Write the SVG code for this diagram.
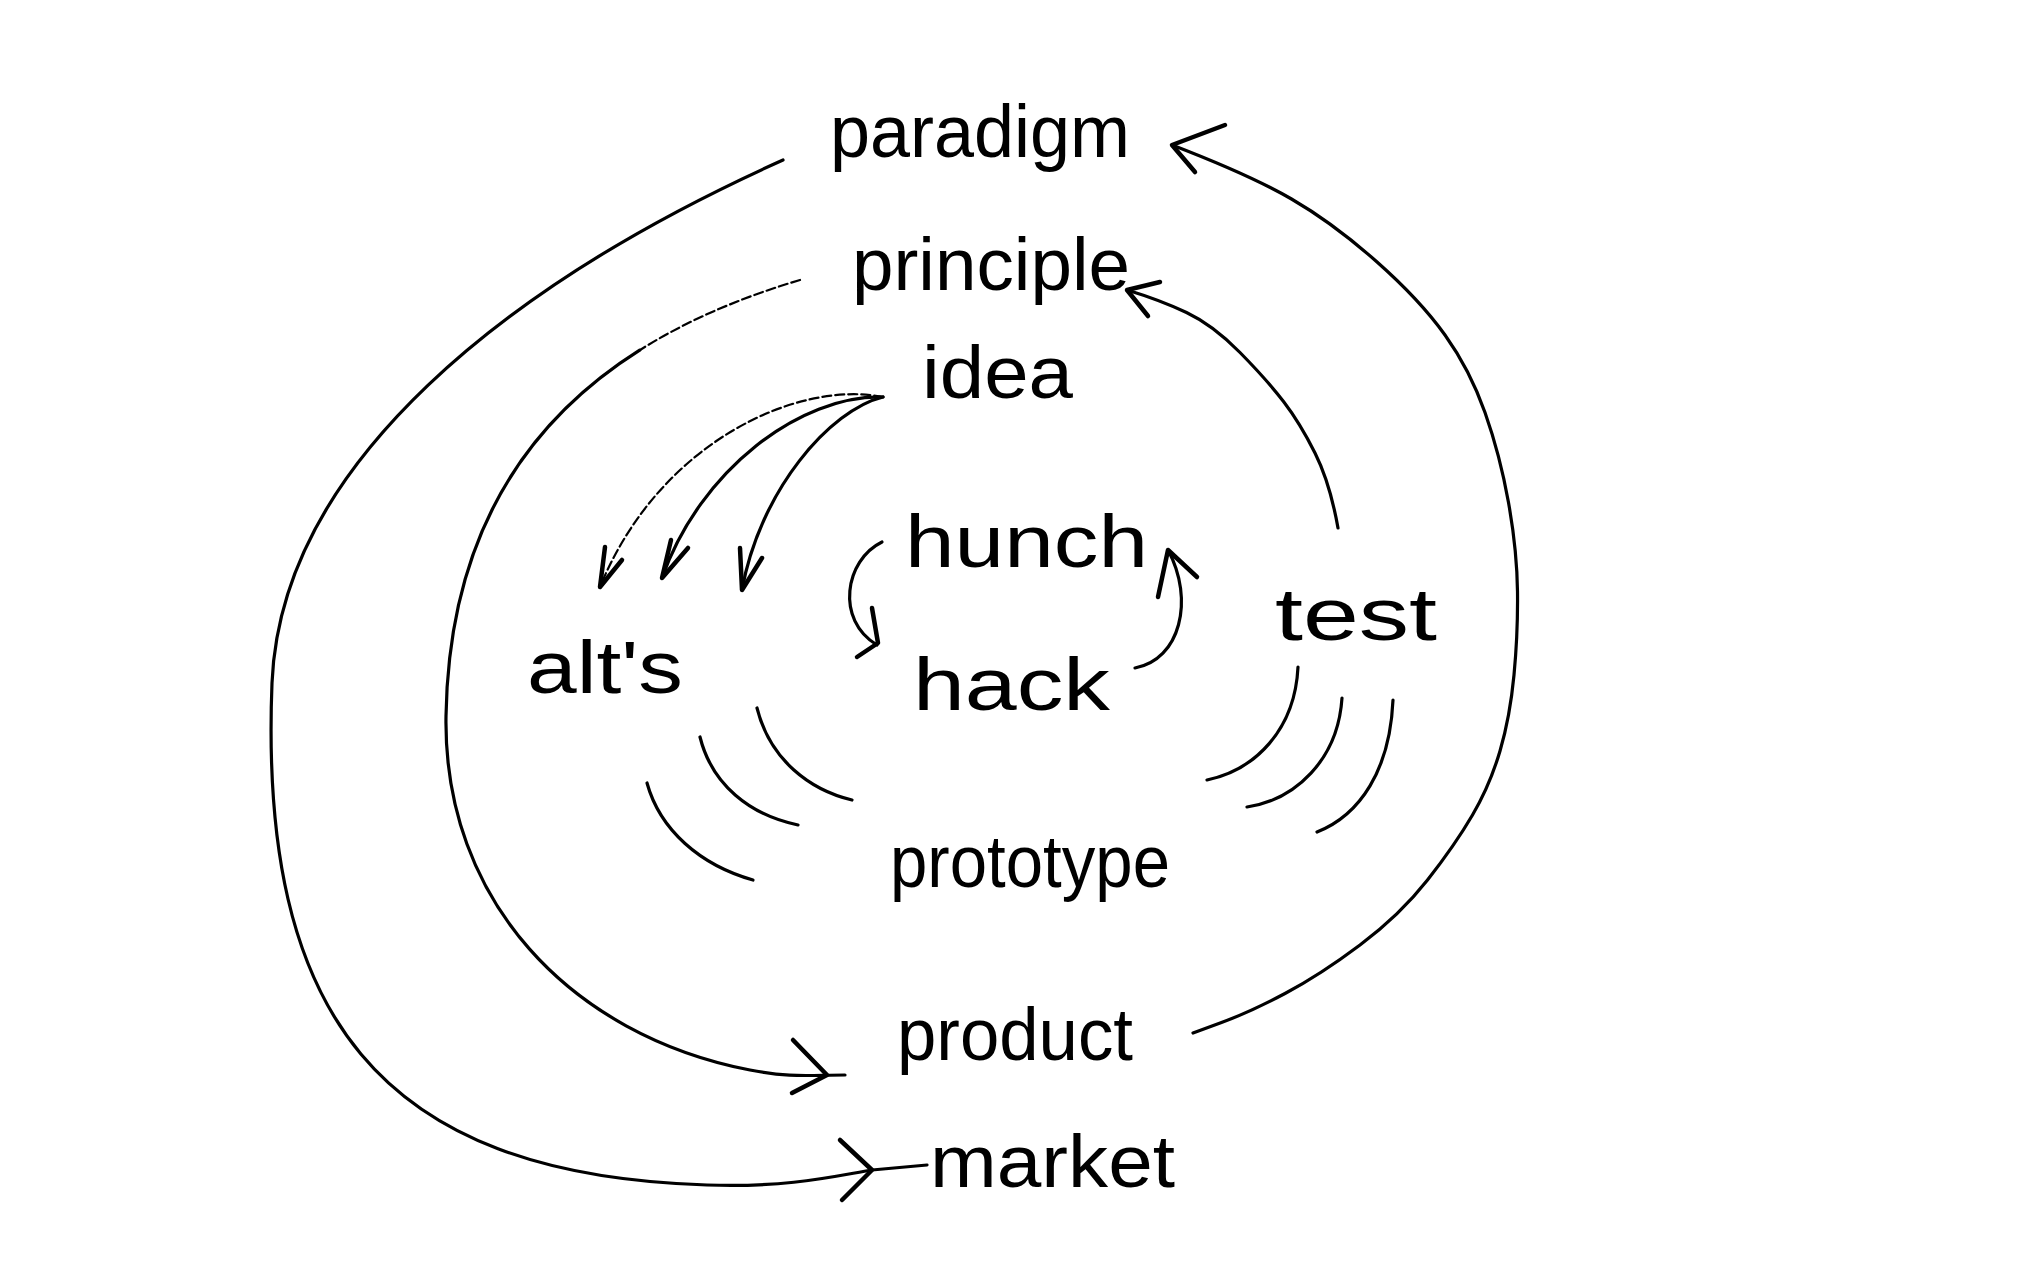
<svg xmlns="http://www.w3.org/2000/svg" width="2028" height="1270" viewBox="0 0 2028 1270">
<style>
.lbl{font-family:"Liberation Sans","DejaVu Sans",sans-serif;font-size:74px;fill:#000;}
.ln{fill:none;stroke:#000;stroke-width:3.2;stroke-linecap:round;stroke-linejoin:round;}
.faint{fill:none;stroke:#000;stroke-width:2.2;stroke-linecap:round;stroke-dasharray:9 4;}
.hd{fill:none;stroke:#000;stroke-width:4.5;stroke-linecap:round;stroke-linejoin:round;}
</style>
<rect width="2028" height="1270" fill="#fff"/>
<g id="connectors">
  <!-- outer left: paradigm -> market -->
  <path class="ln" d="M 783 160 C 509 283, 281 463, 272 683 C 259 1013, 377 1175, 707 1185 C 790 1188, 840 1175, 872 1170 L 927 1165"/>
  <path class="hd" d="M 840 1140 L 872 1170 L 842 1200"/>
  <!-- inner left: principle -> product -->
  <path class="faint" d="M 800 280 C 742.4 297.1, 687.9 319.8, 639.7 350.2"/>
  <path class="ln" d="M 639.7 350.2 C 527.1 421.1, 448.8 534, 446 716 C 443 900, 570 1035, 750 1070 C 790 1078, 810 1075, 845 1075"/>
  <path class="hd" d="M 793 1040 L 827 1075 L 792 1093"/>
  <!-- outer right: product -> paradigm -->
  <path class="ln" d="M 1193 1033 L 1221.5 1022.5 Q 1250 1012 1285 993.5 Q 1320 975 1360 945 Q 1400 915 1427.5 880 Q 1455 845 1472.5 815 Q 1490 785 1500 751 Q 1510 717 1514 675 Q 1518 633 1517.5 591.5 Q 1517 550 1508.5 502.5 Q 1500 455 1485 412.5 Q 1470 370 1445 335 Q 1420 300 1376.5 261.5 Q 1333 223 1291.5 199 Q 1250 175 1172 145"/>
  <path class="hd" d="M 1225 125 L 1172 145 L 1195 172"/>
  <!-- inner right: test -> principle -->
  <path class="ln" d="M 1338 528 Q 1330 483 1315 453 Q 1300 423 1283.5 401.5 Q 1267 380 1240 352.5 Q 1213 325 1186.5 312.5 Q 1160 300 1127 290"/>
  <path class="hd" d="M 1160 282 L 1127 290 L 1148 316"/>
  <!-- idea -> alt's (three) -->
  <path class="faint" d="M 883 397 C 800 380, 660 440, 600 587"/>
  <path class="hd" d="M 605 547 L 600 587 L 622 560"/>
  <path class="ln" d="M 883 397 C 800 395, 700 470, 662 578"/>
  <path class="hd" d="M 671 540 L 662 578 L 688 548"/>
  <path class="ln" d="M 883 397 C 830 410, 760 490, 742 590"/>
  <path class="hd" d="M 740 548 L 742 590 L 762 558"/>
  <!-- hunch <-> hack -->
  <path class="ln" d="M 882 542 C 845 560, 835 620, 877 645"/>
  <path class="hd" d="M 872 608 L 878 643 L 857 657"/>
  <path class="ln" d="M 1135 668 C 1180 660, 1195 600, 1168 550"/>
  <path class="hd" d="M 1158 597 L 1168 550 L 1197 577"/>
  <!-- arcs around prototype -->
  <path class="ln" d="M 757 708 C 770 760, 810 790, 852 800"/>
  <path class="ln" d="M 700 737 C 712 785, 750 815, 798 825"/>
  <path class="ln" d="M 647 783 C 660 830, 700 865, 753 880"/>
  <path class="ln" d="M 1298 667 C 1295 730, 1255 770, 1207 780"/>
  <path class="ln" d="M 1342 698 C 1338 760, 1295 800, 1247 807"/>
  <path class="ln" d="M 1393 700 C 1390 770, 1360 815, 1317 832"/>
</g>
<g id="paradigm"><text class="lbl" x="830" y="157" textLength="300" lengthAdjust="spacingAndGlyphs">paradigm</text></g>
<g id="principle"><text class="lbl" x="852" y="290" textLength="278" lengthAdjust="spacingAndGlyphs">principle</text></g>
<g id="idea"><text class="lbl" x="922" y="398" textLength="151" lengthAdjust="spacingAndGlyphs">idea</text></g>
<g id="hunch"><text class="lbl" x="905" y="567" textLength="243" lengthAdjust="spacingAndGlyphs">hunch</text></g>
<g id="hack"><text class="lbl" x="913" y="710" textLength="197" lengthAdjust="spacingAndGlyphs">hack</text></g>
<g id="alts"><text class="lbl" x="527" y="693" textLength="156" lengthAdjust="spacingAndGlyphs">alt's</text></g>
<g id="test"><text class="lbl" x="1275" y="640" textLength="162" lengthAdjust="spacingAndGlyphs">test</text></g>
<g id="prototype"><text class="lbl" x="890" y="887" textLength="280" lengthAdjust="spacingAndGlyphs">prototype</text></g>
<g id="product"><text class="lbl" x="897" y="1060" textLength="236" lengthAdjust="spacingAndGlyphs">product</text></g>
<g id="market"><text class="lbl" x="930" y="1187" textLength="245" lengthAdjust="spacingAndGlyphs">market</text></g>
</svg>
